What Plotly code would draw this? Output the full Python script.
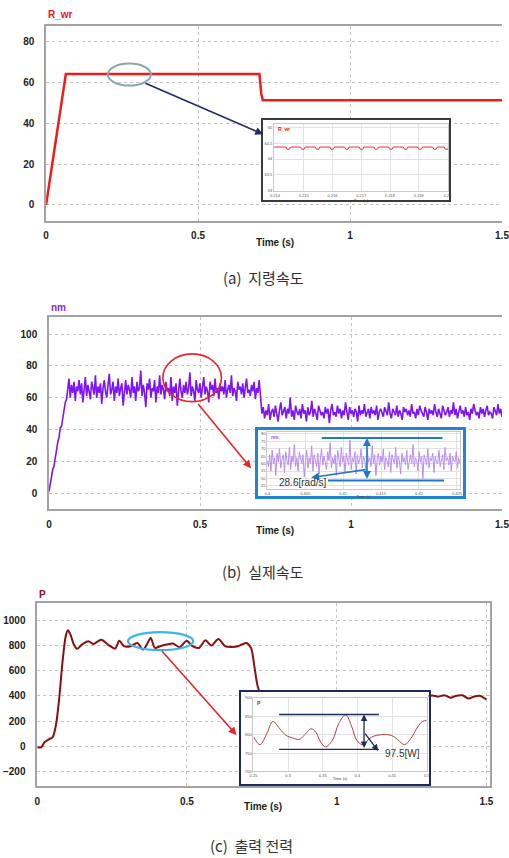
import plotly.graph_objects as go
import numpy as np

W, H = 509, 858

# ---------------- data ----------------
# (a) reference speed R_wr
t_a = [0, 0.065, 0.702, 0.704, 0.708, 0.713, 1.5]
r_wr = [0, 64.2, 64.2, 60.5, 54.5, 51.3, 51.3]

t_a_zoom = [0.21397,
            0.21438, 0.21442, 0.21450, 0.21454,
            0.21489, 0.21493, 0.21501, 0.21505,
            0.21540, 0.21544, 0.21552, 0.21556,
            0.21591, 0.21595, 0.21603, 0.21607,
            0.21642, 0.21646, 0.21654, 0.21658,
            0.21693, 0.21697, 0.21705, 0.21709,
            0.21744, 0.21748, 0.21756, 0.21760,
            0.21795, 0.21799, 0.21807, 0.21811,
            0.21846, 0.21850, 0.21858, 0.21862,
            0.21897, 0.21901, 0.21909, 0.21913,
            0.21948, 0.21952, 0.21960, 0.21964,
            0.21988, 0.21992, 0.22002]
r_wr_zoom = [64.38,
             64.38, 64.31, 64.31, 64.38,
             64.38, 64.31, 64.31, 64.38,
             64.38, 64.31, 64.31, 64.38,
             64.38, 64.31, 64.31, 64.38,
             64.38, 64.31, 64.31, 64.38,
             64.38, 64.31, 64.31, 64.38,
             64.38, 64.31, 64.31, 64.38,
             64.38, 64.31, 64.31, 64.38,
             64.38, 64.31, 64.31, 64.38,
             64.38, 64.31, 64.31, 64.38,
             64.38, 64.31, 64.31, 64.38,
             64.38, 64.31, 64.31]

# (b) actual speed nm
nm_ramp = [1, 6, 8, 15, 17, 23, 26, 32, 35, 41, 42, 48, 51, 57, 59]
nm_high = [66, 72, 60, 68, 63, 70, 58, 67, 64, 71, 62, 69, 57, 66, 73, 61, 68, 64, 59, 70,
           65, 62, 74, 60, 67, 63, 69, 56, 66, 71, 64, 60, 68, 75, 62, 65, 70, 58, 67, 63,
           72, 61, 66, 69, 55, 64, 71, 62, 68, 65, 60, 73, 63, 67, 58, 70, 64, 66, 77, 61,
           68, 63, 54, 69, 65, 72, 60, 66, 64, 71, 57, 67, 63, 74, 62, 68, 65, 59, 70, 64,
           66, 61, 73, 58, 67, 63, 69, 55, 66, 72, 64, 60, 68, 63, 70, 62, 66, 76, 61, 67,
           64, 58, 71, 65, 63, 69, 60, 66, 73, 62, 67, 64, 57, 70, 65, 68, 61, 72, 63, 66,
           59, 69, 64, 67, 62, 71, 60, 65, 68, 63, 74, 61, 66, 64, 58, 70, 65, 67, 62, 69,
           60, 66, 72, 63, 65, 61, 68, 64, 70, 59, 66, 63, 71, 62]
nm_low = [50, 54, 47, 52, 49, 56, 46, 51, 53, 48, 55, 50, 45, 52, 57, 49, 51, 54, 47, 53,
          50, 60, 48, 52, 46, 55, 51, 49, 53, 47, 56, 50, 52, 45, 54, 49, 51, 58, 48, 53,
          50, 46, 55, 52, 49, 51, 47, 54, 50, 53, 44, 52, 56, 49, 51, 48, 55, 50, 53, 47,
          52, 49, 57, 51, 46, 54, 50, 52, 48, 53, 51, 45, 55, 49, 52, 50, 56, 48, 51, 53,
          47, 54, 50, 52, 49, 55, 46, 51, 53, 50, 48, 54, 52, 49, 57, 50, 47, 53, 51, 49,
          55, 48, 52, 50, 46, 54, 51, 53, 49, 52, 48, 56, 50, 51, 47, 53, 49, 55, 52, 50,
          48, 54, 51, 46, 53, 50, 52, 49, 56, 51, 48, 53, 50, 47, 55, 52, 49, 51, 54, 48,
          52, 50, 57, 49, 53, 47, 51, 55, 50, 52, 48, 54, 49, 51, 46, 53, 50, 56, 52, 49,
          51, 47, 54, 50, 53, 48, 52, 55, 49, 51, 50, 47, 54, 52, 49, 56, 50, 53, 48]
nm_zoom = [62, 58, 66, 55, 69, 60, 64, 52, 67, 61, 70, 57, 63, 66, 54, 68, 62, 59, 71, 56,
           65, 61, 73, 58, 64, 55, 68, 63, 60, 66, 51, 62, 69, 57, 64, 60, 72, 55, 66, 62,
           58, 67, 53, 63, 70, 59, 65, 61, 56, 68, 62, 74, 57, 64, 60, 66, 52, 69, 63, 58,
           71, 61, 65, 54, 67, 62, 59, 76, 56, 64, 61, 68, 53, 66, 60, 63, 70, 57, 65, 62,
           55, 69, 61, 64, 58, 72, 60, 66, 52, 63, 67, 59, 65, 61, 70, 56, 64, 62, 58, 68,
           54, 66, 63, 60, 71, 57, 65, 62, 53, 67, 61, 64, 59, 69, 56, 63, 66, 60, 73, 58,
           64, 62, 55, 68, 61, 65, 50, 66, 63, 59, 70, 57, 64, 62, 67, 54, 65, 61, 60, 69,
           58, 63, 66, 56, 71, 62, 64, 59, 67, 55, 65, 62, 61, 68, 57, 64, 60]

# (c) output power P
t_c = [0, 0.013, 0.024, 0.04, 0.051, 0.062, 0.073, 0.084, 0.095, 0.102,
       0.111, 0.122, 0.133, 0.149, 0.171, 0.187, 0.214, 0.236, 0.26, 0.274,
       0.29, 0.312, 0.334, 0.353, 0.366, 0.379, 0.393, 0.41, 0.432, 0.453,
       0.475, 0.499, 0.518, 0.54, 0.562, 0.581, 0.605, 0.627, 0.649, 0.671,
       0.698, 0.714, 0.725, 0.736, 0.747, 0.76, 0.774, 0.79, 0.82, 0.85,
       0.88, 0.91, 0.95, 0.98, 1.01, 1.04, 1.078, 1.1, 1.13, 1.16,
       1.203, 1.22, 1.25, 1.28, 1.304, 1.32, 1.34, 1.36, 1.38, 1.40,
       1.42, 1.44, 1.46, 1.48, 1.5]
p_c = [-8, -8, 32, 58, 71, 163, 374, 663, 874, 921,
       887, 808, 774, 808, 834, 813, 847, 808, 776, 839,
       795, 795, 821, 768, 808, 860, 781, 795, 808, 816,
       787, 839, 795, 781, 842, 800, 852, 795, 789, 795,
       821, 781, 637, 479, 413, 400, 428, 398, 405, 395,
       408, 396, 410, 400, 394, 402, 428, 400, 396, 404,
       432, 402, 392, 404, 398, 404, 395, 406, 386, 402,
       405, 380, 396, 400, 372]
t_c_zoom = [0.25, 0.2595, 0.269, 0.278, 0.288, 0.297, 0.307, 0.316, 0.323, 0.333,
            0.34, 0.347, 0.354, 0.364, 0.373, 0.383, 0.392, 0.399, 0.407, 0.411,
            0.421, 0.435, 0.449, 0.458, 0.468, 0.477, 0.487, 0.494, 0.5]
p_c_zoom = [794, 773, 802, 836, 816, 798, 791, 787, 798, 816,
            807, 780, 767, 785, 830, 854, 821, 785, 773, 778,
            794, 800, 798, 787, 773, 789, 821, 836, 839]

main_ticks = [0, 0.5, 1, 1.5]
main_ticktext = ["0", "0.5", "1", "1.5"]
captions = ["(a)\u00a0\u00a0지령속도", "(b)\u00a0\u00a0실제속도", "(c)\u00a0\u00a0출력\u00a0전력"]

# ---------------- helpers ----------------
def hd(x0, x1):
    return [x0 / W, x1 / W]

def vd(ytop, ybot):
    return [1 - ybot / H, 1 - ytop / H]

FONT = "Liberation Sans, Arial, sans-serif"
tickf = dict(family=FONT, size=10, color="#222", weight="bold")
small = dict(family=FONT, size=4, color="#555")

def main_x(dom, rng, anchor):
    return dict(domain=dom, range=rng, anchor=anchor, tickvals=main_ticks, ticktext=main_ticktext,
                showgrid=True, gridcolor="#c4c4c4", griddash="dot", gridwidth=1,
                showline=True, mirror=True, linecolor="#a3a3a3", linewidth=1.5,
                ticks="outside", ticklen=5, tickcolor="rgba(0,0,0,0)",
                tickfont=tickf, zeroline=False, ticklabeloverflow="allow")

def main_y(dom, rng, anchor, tv, mirror=False):
    return dict(domain=dom, range=rng, anchor=anchor, tickvals=tv,
                showgrid=True, gridcolor="#c4c4c4", griddash="dot", gridwidth=1,
                showline=True, mirror=mirror, linecolor="#a3a3a3", linewidth=1.5,
                ticks="outside", ticklen=8, tickcolor="rgba(0,0,0,0)",
                tickfont=tickf, zeroline=False)

def box_ax(dom, anchor, color, width):
    return dict(domain=dom, range=[0, 1], anchor=anchor, showgrid=False, zeroline=False,
                showticklabels=False, ticks="", showline=True, mirror=True,
                linecolor=color, linewidth=width)

def inset_x(dom, rng, anchor, tv, tt):
    return dict(domain=dom, range=rng, anchor=anchor, tickvals=tv, ticktext=tt,
                showgrid=True, gridcolor="#e2e2e2", gridwidth=0.6, zeroline=False,
                showline=True, mirror=True, linecolor="#c8c8c8", linewidth=0.8,
                ticks="", tickfont=small,
                title=dict(text="Time (s)", font=dict(family=FONT, size=4, color="#444"), standoff=0))

def inset_y(dom, rng, anchor, tv, tt):
    return dict(domain=dom, range=rng, anchor=anchor, tickvals=tv, ticktext=tt,
                showgrid=True, gridcolor="#e2e2e2", gridwidth=0.6, zeroline=False,
                showline=True, mirror=True, linecolor="#c8c8c8", linewidth=0.8,
                ticks="", tickfont=small)

fig = go.Figure()

# ---------------- traces (ordered by subplot) ----------------
fig.add_trace(go.Scatter(x=t_a, y=r_wr, mode="lines", line=dict(color="#f01c1c", width=2.5),
                         xaxis="x", yaxis="y", name="R_wr"))
fig.add_trace(go.Scatter(x=[None], y=[None], xaxis="x2", yaxis="y2", hoverinfo="skip"))
fig.add_trace(go.Scatter(x=t_a_zoom, y=r_wr_zoom, mode="lines", line=dict(color="#f03030", width=1),
                         xaxis="x3", yaxis="y3", name="R_wr zoom"))

t_ramp = np.linspace(0.0, 0.058, len(nm_ramp))
t_high = np.linspace(0.062, 0.700, len(nm_high))
t_low = np.linspace(0.705, 1.5, len(nm_low))
t_b = np.concatenate([t_ramp, t_high, t_low])
nm = nm_ramp + nm_high + nm_low
fig.add_trace(go.Scatter(x=t_b, y=nm, mode="lines", line=dict(color="#7d14f5", width=1.6),
                         xaxis="x4", yaxis="y4", name="nm"))
fig.add_trace(go.Scatter(x=[None], y=[None], xaxis="x5", yaxis="y5", hoverinfo="skip"))
t_b_zoom = np.linspace(0.4, 0.4254, len(nm_zoom))
fig.add_trace(go.Scatter(x=t_b_zoom, y=nm_zoom, mode="lines", line=dict(color="#b98cf2", width=1),
                         xaxis="x6", yaxis="y6", name="nm zoom"))

fig.add_trace(go.Scatter(x=t_c, y=p_c, mode="lines", line=dict(color="#8a0f0f", width=2, shape="spline", smoothing=0.8),
                         xaxis="x7", yaxis="y7", name="P"))
fig.add_trace(go.Scatter(x=[None], y=[None], xaxis="x8", yaxis="y8", hoverinfo="skip"))
fig.add_trace(go.Scatter(x=t_c_zoom, y=p_c_zoom, mode="lines", line=dict(color="#b04040", width=1, shape="spline", smoothing=1),
                         xaxis="x9", yaxis="y9", name="P zoom"))

# ---------------- axes ----------------
lay = dict(
    xaxis=main_x(hd(43, 509), [0, 1.5], "y"),
    yaxis=main_y(vd(23, 219), [-7.8, 87.8], "x", [0, 20, 40, 60, 80]),
    xaxis2=box_ax(hd(265, 455), "y2", "#3a3a3a", 2),
    yaxis2=box_ax(vd(118, 198), "x2", "#3a3a3a", 2),
    xaxis3=inset_x(hd(276, 454), [0.21397, 0.22002], "y3",
                   [0.214, 0.215, 0.216, 0.217, 0.218, 0.219, 0.22],
                   ["0.214", "0.215", "0.216", "0.217", "0.218", "0.219", "0.22"]),
    yaxis3=inset_y(vd(122, 189), [62.99, 65.1], "x3", [63, 63.5, 64, 64.5, 65],
                   ["63", "63.5", "64", "64.5", "65"]),
    xaxis4=main_x(hd(46, 509), [0, 1.5], "y4"),
    yaxis4=main_y(vd(316, 509), [-10, 110.6], "x4", [0, 20, 40, 60, 80, 100]),
    xaxis5=box_ax(hd(260, 469), "y5", "#2483d0", 2.5),
    yaxis5=box_ax(vd(429, 496), "x5", "#2483d0", 2.5),
    xaxis6=inset_x(hd(269, 466), [0.4, 0.4254], "y6",
                   [0.4, 0.405, 0.41, 0.415, 0.42, 0.425],
                   ["0.4", "0.405", "0.41", "0.415", "0.42", "0.425"]),
    yaxis6=inset_y(vd(432, 489), [42.8, 81], "x6", [45, 50, 55, 60, 65, 70, 75, 80],
                   ["45", "50", "55", "60", "65", "70", "75", "80"]),
    xaxis7=main_x(hd(34, 497), [0, 1.513], "y7"),
    yaxis7=main_y(vd(604, 788), [-318, 1134], "x7", [-200, 0, 200, 400, 600, 800, 1000], mirror=True),
    xaxis8=box_ax(hd(242, 434), "y8", "#1c2a5c", 2),
    yaxis8=box_ax(vd(693, 786), "x8", "#1c2a5c", 2),
    xaxis9=inset_x(hd(255, 432), [0.25, 0.5], "y9",
                   [0.25, 0.3, 0.35, 0.4, 0.45, 0.5],
                   ["0.25", "0.3", "0.35", "0.4", "0.45", "0.5"]),
    yaxis9=inset_y(vd(699, 773), [700, 900], "x9", [700, 750, 800, 850, 900],
                   ["700", "750", "800", "850", "900"]),
)
fig.update_layout(**lay)

# ---------------- shapes ----------------
shapes = [
    dict(type="circle", xref="x", yref="y", x0=0.203, x1=0.345, y0=58.5, y1=69.3,
         line=dict(color="#8aa8ac", width=2)),
    dict(type="circle", xref="x4", yref="y4", x0=0.377, x1=0.571, y0=57.5, y1=87.5,
         line=dict(color="#e8262a", width=1.6)),
    dict(type="circle", xref="x7", yref="y7", x0=0.303, x1=0.521, y0=764, y1=906,
         line=dict(color="#3cb6e8", width=2.2)),
    dict(type="line", xref="x6", yref="y6", x0=0.4072, x1=0.4231, y0=77.3, y1=77.3,
         line=dict(color="#1f78c8", width=2)),
    dict(type="line", xref="x6", yref="y6", x0=0.4080, x1=0.4233, y0=48.7, y1=48.7,
         line=dict(color="#1f78c8", width=2)),
    dict(type="line", xref="x9", yref="y9", x0=0.287, x1=0.431, y0=855, y1=855,
         line=dict(color="#1c2a5c", width=1.3)),
    dict(type="line", xref="x9", yref="y9", x0=0.287, x1=0.431, y0=760, y1=760,
         line=dict(color="#1c2a5c", width=1.3)),
]
fig.update_layout(shapes=shapes)

# ---------------- annotations ----------------
ann = []
def txt(x, y, s, size, color, bold=False, xanchor="center", family=FONT):
    ann.append(dict(xref="paper", yref="paper", x=x / W, y=1 - y / H, text=s, showarrow=False,
                    xanchor=xanchor, yanchor="middle",
                    font=dict(family=family, size=size, color=color, weight="bold" if bold else "normal")))

txt(43, 12, "R_wr", 10, "#e8141c", True, "left")
txt(46, 306, "nm", 10, "#8a2be2", True, "left")
txt(34, 595, "P", 10, "#8b1010", True, "left")
txt(277, 241, "Time (s)", 10, "#222", True)
txt(277, 531, "Time (s)", 10, "#222", True)
txt(265, 808, "Time (s)", 10, "#222", True)
CJK = "Noto Sans CJK KR, sans-serif"
txt(265, 276, captions[0], 15, "#333", family=CJK)
txt(265, 572, captions[1], 15, "#333", family=CJK)
txt(253, 847, captions[2], 15, "#333", family=CJK)

for xr, yr, s, c in [("x3 domain", "y3 domain", "R_wr", "#e8141c"),
                     ("x6 domain", "y6 domain", "nm", "#9b59f0"),
                     ("x9 domain", "y9 domain", "P", "#b02020")]:
    ann.append(dict(xref=xr, yref=yr, x=0.01, y=1.0, text=s, showarrow=False,
                    xanchor="left", yanchor="top", font=dict(family=FONT, size=5, color=c, weight="bold")))

def arrow(xref, yref, x, y, ax, ay, color, width=1.5, side="end"):
    ann.append(dict(xref=xref, yref=yref, axref=xref, ayref=yref, x=x, y=y, ax=ax, ay=ay,
                    text="", showarrow=True, arrowhead=2, startarrowhead=2, arrowside=side,
                    arrowsize=1, startarrowsize=1, arrowwidth=width, arrowcolor=color, standoff=0, startstandoff=0))

arrow("x", "y", 0.7145, 34.6, 0.322, 60, "#23296b", 1.6)
arrow("x4", "y4", 0.669, 15.6, 0.49, 56.9, "#e8262a", 1.6)
arrow("x7", "y7", 0.6656, 89, 0.412, 769, "#e8262a", 1.6)

arrow("x6", "y6", 0.41315, 77.3, 0.41315, 48.7, "#1f78c8", 1.6, "end+start")
arrow("x6", "y6", 0.4058, 50.6, 0.41315, 56.1, "#1f78c8", 1.6)
ann.append(dict(xref="x6", yref="y6", x=0.4047, y=47.6, text="28.6[rad/s]", showarrow=False,
                xanchor="center", yanchor="middle", font=dict(family=FONT, size=10, color="#333")))
arrow("x9", "y9", 0.4096, 855, 0.4096, 760, "#1c2a5c", 1.3, "end+start")
arrow("x9", "y9", 0.430, 756, 0.4096, 807, "#1c2a5c", 1.3)
ann.append(dict(xref="x9", yref="y9", x=0.465, y=748, text="97.5[W]", showarrow=False,
                xanchor="center", yanchor="middle", font=dict(family=FONT, size=10, color="#333")))

fig.update_layout(annotations=ann)

fig.update_layout(width=W, height=H, autosize=False, margin=dict(l=0, r=0, t=0, b=0, pad=0),
                  paper_bgcolor="white", plot_bgcolor="white", showlegend=False,
                  font=dict(family=FONT))

fig.write_html("out.html", config={"displayModeBar": False},
               post_script="document.body.style.margin='0';")
